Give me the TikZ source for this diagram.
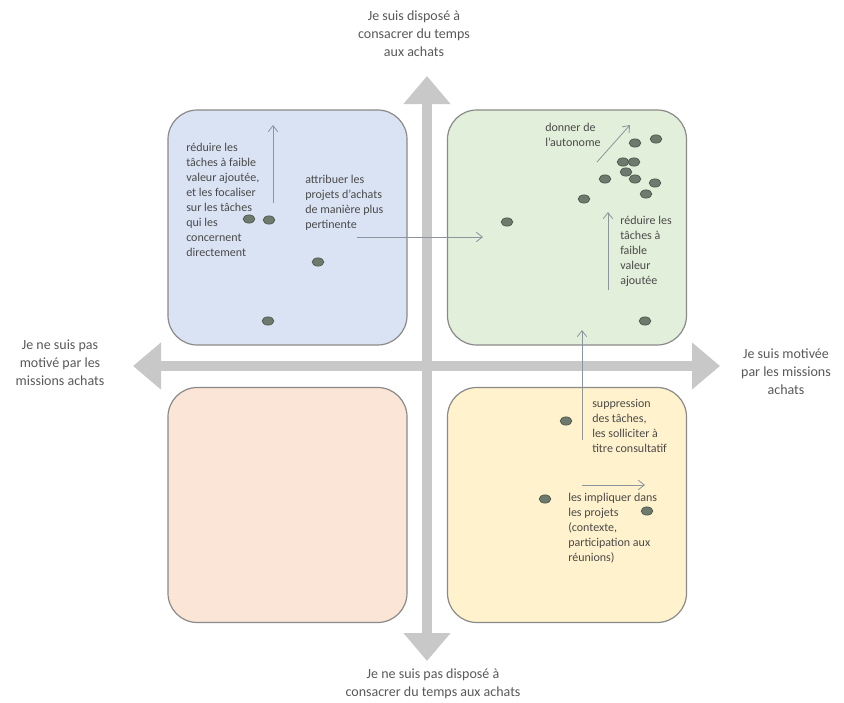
\documentclass[tikz,border=0pt]{standalone}
\usepackage{fontspec}
\setmainfont{Carlito}
\usetikzlibrary{arrows.meta,shapes.geometric}
\definecolor{qblue}{HTML}{DAE3F3}
\definecolor{qgreen}{HTML}{E2EFDA}
\definecolor{qsalmon}{HTML}{FBE5D6}
\definecolor{qyellow}{HTML}{FFF2CC}
\definecolor{qborder}{HTML}{8A8A8A}
\definecolor{axisgray}{HTML}{C8C8C8}
\definecolor{lblgray}{HTML}{595959}
\definecolor{txtgray}{HTML}{4A4A4A}
\definecolor{dotfill}{HTML}{6F7A6F}
\definecolor{dotdraw}{HTML}{4C564C}
\definecolor{arrgray}{HTML}{8C949C}
\tikzset{
  qbox/.style={draw=qborder, line width=0.9pt, rounded corners=22pt,
    minimum width=179.25pt, minimum height=176.25pt, inner sep=0pt},
  axis/.style={draw=axisgray, line width=7.5pt,
    {Triangle[width=34pt,length=21pt]}-{Triangle[width=34pt,length=21pt]}},
  lbl/.style={font=\fontsize{10.5}{13.3}\selectfont, align=center, anchor=north,
    inner sep=0pt, text=lblgray},
  txt/.style={font=\fontsize{9}{11.25}\selectfont, align=left, anchor=north west,
    inner sep=0pt, text=txtgray},
  dot/.style={ellipse, fill=dotfill, draw=dotdraw, line width=0.5pt,
    minimum width=8.8pt, minimum height=6.2pt, inner sep=0pt},
  arr/.style={draw=arrgray, line width=0.6pt, -{Straight Barb[length=4.5pt,width=7pt]}}
}
\begin{document}
\begin{tikzpicture}[x=0.75pt,y=-0.75pt]
\useasboundingbox[fill=white] (0,0) rectangle (844,703);
% quadrants
\node[qbox, fill=qblue] (q1) at (287.5,227.5) {};
\node[qbox, fill=qgreen] (q2) at (567,227.5) {};
\node[qbox, fill=qsalmon] (q3) at (287.5,505) {};
\node[qbox, fill=qyellow] (q4) at (567,505) {};
% axes
\coordinate (axT) at (427,76);
\coordinate (axB) at (427,661);
\coordinate (axL) at (133,366);
\coordinate (axR) at (720,366);
\draw[axis] (axL) -- (axR);
\draw[axis] (axB) -- (axT);
% axis labels
\node[lbl] (lt) at (414,11) {Je suis disposé à\\consacrer du temps\\aux achats};
\node[lbl] (lb) at (433,669) {Je ne suis pas disposé à\\consacrer du temps aux achats};
\node[lbl] (ll) at (60,340) {Je ne suis pas\\motivé par les\\missions achats};
\node[lbl] (lr) at (786,349) {Je suis motivée\\par les missions\\achats};
% texts
\node[txt] (t1) at (186,143) {réduire les\\tâches à faible\\valeur ajoutée,\\et les focaliser\\sur les tâches\\qui les\\concernent\\directement};
\node[txt] (t2) at (305,175) {attribuer les\\projets d'achats\\de manière plus\\pertinente};
\node[txt] (t3) at (545,123) {donner de\\l'autonome};
\node[txt] (t4) at (620,216) {réduire les\\tâches à\\faible\\valeur\\ajoutée};
\node[txt] (t5) at (592,399) {suppression\\des tâches,\\les solliciter à\\titre consultatif};
\node[txt] (t6) at (568,493) {les impliquer dans\\les projets\\(contexte,\\participation aux\\réunions)};
% dots
\node[dot] (b1) at (249,219) {};
\node[dot] (b2) at (269,220) {};
\node[dot] (b3) at (318,262) {};
\node[dot] (b4) at (268,321) {};
\node[dot] (g1) at (635,143) {};
\node[dot] (g2) at (656,139) {};
\node[dot] (g3) at (623,162) {};
\node[dot] (g4) at (634,162) {};
\node[dot] (g5) at (626,172) {};
\node[dot] (g6) at (635,179) {};
\node[dot] (g7) at (605,179) {};
\node[dot] (g8) at (655,183) {};
\node[dot] (g9) at (646,194) {};
\node[dot] (g10) at (584,199) {};
\node[dot] (g11) at (507,222) {};
\node[dot] (g12) at (645,321) {};
\node[dot] (y1) at (566,421) {};
\node[dot] (y2) at (545,499) {};
\node[dot] (y3) at (647,511) {};
% arrows
\coordinate (a1s) at (273,203);
\coordinate (a1e) at (273,125);
\coordinate (a2s) at (357,237);
\coordinate (a2e) at (483,237);
\coordinate (a3s) at (597,162);
\coordinate (a3e) at (630,125);
\coordinate (a4s) at (608,290);
\coordinate (a4e) at (608,212);
\coordinate (a5s) at (582,440);
\coordinate (a5e) at (582,330);
\coordinate (a6s) at (582,485);
\coordinate (a6e) at (645,485);
\draw[arr] (a1s) -- (a1e);
\draw[arr] (a2s) -- (a2e);
\draw[arr] (a3s) -- (a3e);
\draw[arr] (a4s) -- (a4e);
\draw[arr] (a5s) -- (a5e);
\draw[arr] (a6s) -- (a6e);
\end{tikzpicture}
\end{document}
